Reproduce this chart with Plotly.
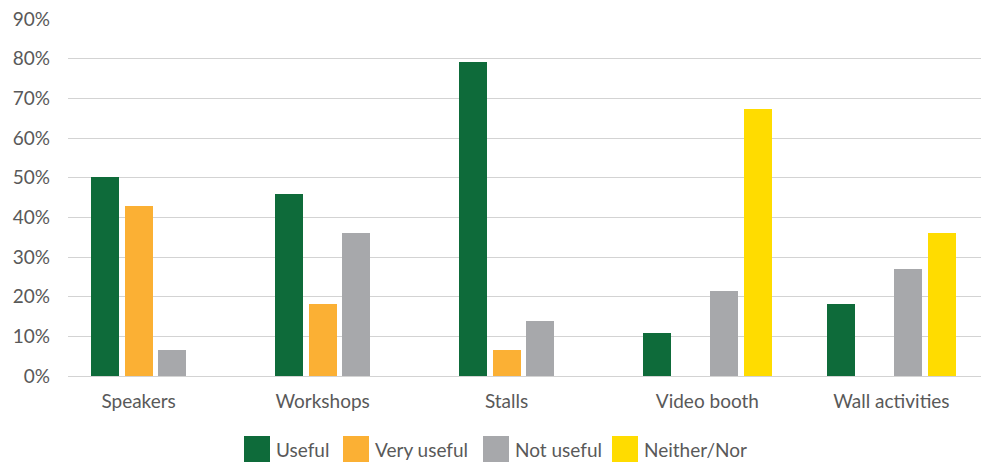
import plotly.graph_objects as go

# ---- data ----
categories = ["Speakers", "Workshops", "Stalls", "Video booth", "Wall activities"]
series_names = ["Useful", "Very useful", "Not useful", "Neither/Nor"]
useful = [50.2, 46.0, 79.1, 10.8, 18.1]
very_useful = [42.8, 18.1, 6.5, None, None]
not_useful = [6.5, 36.0, 13.8, 21.4, 27.1]
neither_nor = [None, None, None, 67.2, 36.0]
y_ticks = [0, 10, 20, 30, 40, 50, 60, 70, 80, 90]

# ---- style ----
colors = ["#0E6B3A", "#FBB034", "#A7A8AB", "#FFDC00"]
text_color = "#595959"
grid_color = "#D3D3D3"
FONT = "Lato"

W_FIG, H_FIG = 987, 463
L, R, T, B = 68, 6, 19, 87
PW, PH = W_FIG - L - R, H_FIG - T - B

pitch = 0.1826
bar_w = 0.152

series = [useful, very_useful, not_useful, neither_nor]
fig = go.Figure()
for k, (name, vals) in enumerate(zip(series_names, series)):
    xs = [i + (k - 1.5) * pitch for i in range(len(categories))]
    fig.add_trace(go.Bar(
        x=xs, y=vals, name=name, width=bar_w,
        marker=dict(color=colors[k], line=dict(width=0)),
        showlegend=False,
    ))

# tick label positions: centre of the span of non-empty bars in each category
tickvals = []
for i in range(len(categories)):
    present = [k for k in range(len(series)) if series[k][i] is not None]
    lo, hi = min(present), max(present)
    tickvals.append(i + ((lo + hi) / 2 - 1.5) * pitch)

fig.update_layout(
    width=W_FIG, height=H_FIG,
    margin=dict(l=L, r=R, t=T, b=B, pad=0),
    paper_bgcolor="white", plot_bgcolor="white",
    font=dict(family=FONT, size=19, color=text_color),
    barmode="overlay",
    bargap=0,
    xaxis=dict(
        range=[-0.475, 4.487],
        tickvals=tickvals, ticktext=categories,
        showgrid=False, zeroline=False,
        showline=False, ticks="",
        ticklabelstandoff=12,
        tickfont=dict(family=FONT, size=19, color=text_color),
    ),
    yaxis=dict(
        range=[0, 90],
        tickvals=y_ticks,
        ticktext=[f"{v}%" for v in y_ticks],
        showgrid=True, gridcolor=grid_color, gridwidth=1.3,
        zeroline=True, zerolinecolor=grid_color, zerolinewidth=1.3,
        showline=False, ticks="",
        ticklabelstandoff=17,
        tickfont=dict(family=FONT, size=19, color=text_color),
    ),
)

# ---- legend (drawn manually with large square swatches) ----
def px_x(px):
    return (px - L) / PW

def px_y(py):
    return (H_FIG - B - py) / PH

legend_sq_x = [244, 343, 483, 612]
sq = 26
sq_top = 436
for k, name in enumerate(series_names):
    x0 = legend_sq_x[k]
    fig.add_shape(type="rect", xref="paper", yref="paper",
                  x0=px_x(x0), x1=px_x(x0 + sq),
                  y0=px_y(sq_top + sq), y1=px_y(sq_top),
                  fillcolor=colors[k], line=dict(width=0), layer="above")
    fig.add_annotation(xref="paper", yref="paper",
                       x=px_x(x0 + sq + 4), y=px_y(sq_top + sq / 2),
                       xanchor="left", yanchor="middle", showarrow=False,
                       text=name, font=dict(family=FONT, size=19, color=text_color))

fig.write_html("out.html")
